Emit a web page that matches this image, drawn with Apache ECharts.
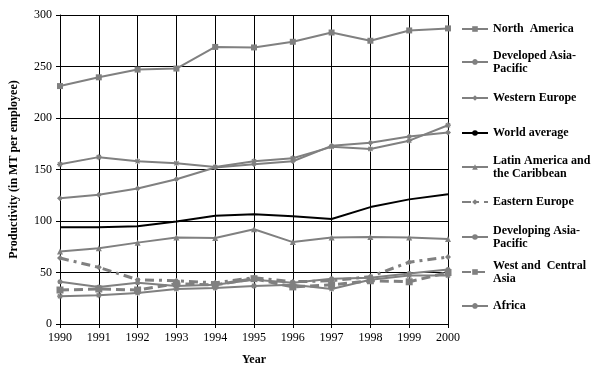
<!DOCTYPE html>
<html><head><meta charset="utf-8">
<script src="https://cdn.jsdelivr.net/npm/echarts@6/dist/echarts.min.js"></script>
<style>html,body{margin:0;padding:0;background:#fff}#c{width:605px;height:371px}</style>
</head><body><div id="c"></div>
<script>
const years = ['1990','1991','1992','1993','1994','1995','1996','1997','1998','1999','2000'];
const northAmerica = [231, 239.5, 247, 248, 269, 268.5, 274, 283, 275, 285, 287];
const developedAsiaPacific = [155, 162, 158, 156, 152.5, 158, 161, 172, 170, 178, 193];
const westernEurope = [122, 125.5, 131.5, 140.5, 152, 155, 158, 173, 176, 182, 186];
const worldAverage = [94, 94, 95, 99.5, 105, 106.5, 104.5, 102, 113.5, 121, 126];
const latinAmerica = [70.5, 73.5, 79, 84, 83.5, 92, 79.5, 84, 84.5, 84, 82.5];
const easternEurope = [64, 55, 43, 42, 40, 45, 41, 42, 46, 60, 65];
const developingAsiaPacific = [41, 36, 40, 37, 38, 43, 40, 44, 45, 49, 53];
const westCentralAsia = [33, 34, 33, 39, 38, 44, 36, 38, 42, 41, 50];
const africa = [27, 28, 30, 34, 35, 37, 38, 34, 43, 47, 47];
const yTicks = [0, 50, 100, 150, 200, 250, 300];

const GRAY = '#808080';
const FONT = '"Liberation Serif", "Times New Roman", serif';
const STAR = 'path://M5,0L5,10M0,5L10,5M1.5,1.5L8.5,8.5M8.5,1.5L1.5,8.5';

const defs = [
  {name:'North America', label:'North  America', data:northAmerica, symbol:'rect', size:6, lw:2},
  {name:'Developed Asia-Pacific', label:'Developed Asia-\nPacific', data:developedAsiaPacific, symbol:STAR, size:6, lw:2, star:true},
  {name:'Western Europe', label:'Western Europe', data:westernEurope, symbol:'diamond', size:6, lw:2},
  {name:'World average', label:'World average', data:worldAverage, symbol:'none', size:0, lw:2, color:'#000'},
  {name:'Latin America and the Caribbean', label:'Latin America and\nthe Caribbean', data:latinAmerica, symbol:'triangle', size:6, lw:2},
  {name:'Eastern Europe', label:'Eastern Europe', data:easternEurope, symbol:'diamond', size:6, lw:3, dash:[9,5,3,5]},
  {name:'Developing Asia-Pacific', label:'Developing Asia-\nPacific', data:developingAsiaPacific, symbol:'circle', size:5, lw:2},
  {name:'West and Central Asia', label:'West and  Central\nAsia', data:westCentralAsia, symbol:'rect', size:7, lw:3, dash:[9,5]},
  {name:'Africa', label:'Africa', data:africa, symbol:STAR, size:6, lw:2, star:true}
];
const firstLineY = [29, 62, 98, 133, 167, 202, 237, 272, 306];

const series = defs.map(d => ({
  name: d.name, type: 'line', data: d.data,
  symbol: d.symbol, symbolSize: d.size, showSymbol: d.symbol !== 'none',
  lineStyle: {color: d.color || GRAY, width: d.lw, type: d.dash || 'solid'},
  itemStyle: d.star ? {color: 'rgba(0,0,0,0)', borderColor: GRAY, borderWidth: 1.2} : {color: d.color || GRAY, borderWidth: 0},
  emphasis: {disabled: true}, animation: false, z: d.color ? 3 : 2
}));

const legends = defs.map((d, i) => {
  const two = d.label.indexOf('\n') >= 0;
  return {
    data: [d.name], left: 461, top: firstLineY[i] - (two ? 19.5 : 6.5),
    itemWidth: 26, itemHeight: 7, itemGap: 0, padding: 0,
    formatter: () => d.label,
    selectedMode: false,
    textStyle: {fontFamily: FONT, fontSize: 12, fontWeight: 'bold', color: '#000', lineHeight: 13,
      padding: two ? [13, 0, 0, 0] : 0}
  };
});

const chart = echarts.init(document.getElementById('c'), null, {renderer: 'canvas'});
chart.setOption({
  backgroundColor: '#fff',
  animation: false,
  textStyle: {fontFamily: FONT},
  legend: legends,
  grid: {left: 54, right: 157, top: 15, bottom: 45, containLabel: false},
  xAxis: {
    type: 'category', data: years, boundaryGap: false,
    name: 'Year', nameLocation: 'middle', nameGap: 30,
    nameTextStyle: {fontFamily: FONT, fontSize: 12, fontWeight: 'bold', color: '#000'},
    axisLine: {lineStyle: {color: '#000', width: 1}},
    axisTick: {show: true, length: 4, interval: 0, lineStyle: {color: '#000'}},
    axisLabel: {fontFamily: FONT, fontSize: 12, color: '#000', margin: 8, interval: 0},
    splitLine: {show: true, interval: 0, lineStyle: {color: '#000', width: 1}}
  },
  yAxis: {
    type: 'value', min: yTicks[0], max: yTicks[yTicks.length-1], interval: 50,
    name: 'Productivity (in MT per employee)', nameLocation: 'middle', nameGap: 40,
    nameTextStyle: {fontFamily: FONT, fontSize: 12, fontWeight: 'bold', color: '#000'},
    axisLine: {show: true, lineStyle: {color: '#000', width: 1}},
    axisTick: {show: true, length: 4, lineStyle: {color: '#000'}},
    axisLabel: {fontFamily: FONT, fontSize: 12, color: '#000', margin: 8},
    splitLine: {show: true, lineStyle: {color: '#000', width: 1}}
  },
  series: series
});
</script></body></html>
